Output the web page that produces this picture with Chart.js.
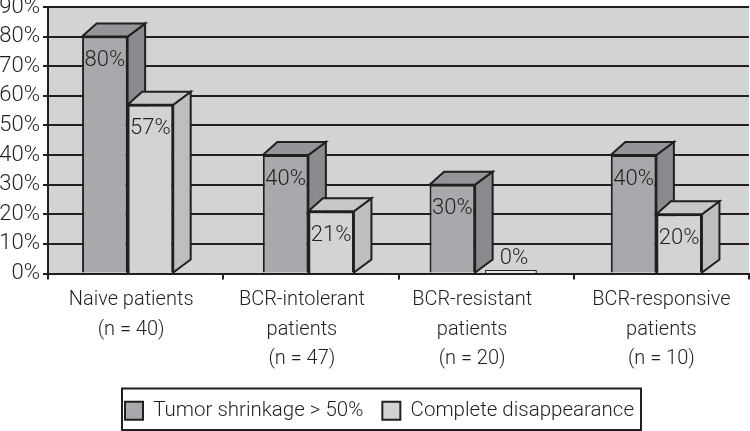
<!DOCTYPE html>
<html>
<head>
<meta charset="utf-8">
<script src="https://cdn.jsdelivr.net/npm/chart.js@4"></script>
<style>
  html, body { margin: 0; padding: 0; background: #fff; overflow: hidden; }
  #wrap { width: 750px; height: 431px; }
</style>
</head>
<body>
<div id="wrap"><canvas id="chart"></canvas></div>
<script>
const categories = [
  ['Naive patients', '(n = 40)'],
  ['BCR-intolerant', 'patients', '(n = 47)'],
  ['BCR-resistant', 'patients', '(n = 20)'],
  ['BCR-responsive', 'patients', '(n = 10)']
];
const shrinkage = [80, 40, 30, 40];
const disappearance = [57, 21, 0, 20];
const seriesNames = ['Tumor shrinkage > 50%', 'Complete disappearance'];
const yTicks = [0, 10, 20, 30, 40, 50, 60, 70, 80, 90];

const ink = '#231f20';
const textInk = '#231f20';
const fontName = 'Roboto, "Liberation Sans", Arial, sans-serif';

// front, side and top colour of each series
const faces = [
  { front: '#a7a9ac', side: '#898b8e', top: '#939598' },
  { front: '#d1d3d4', side: '#bcbec0', top: '#c6c8ca' }
];

// the original groups and labels are not centred on their ticks (px)
const groupShift = [-8, -2.5, -11, -5];
const labelShift = [-4.5, -9, -14, 0];
const depthLeft = 14.5;
const depthRight = 17.5;
const depthY = 13;

const threeD = {
  id: 'threeD',
  afterLayout(chart) {
    // legend sits a little right of centre
    chart.legend.left += 5;
    chart.legend.right += 5;
  },
  afterDatasetsUpdate(chart) {
    chart.data.datasets.forEach((ds, d) => {
      chart.getDatasetMeta(d).data.forEach((bar, i) => {
        bar.x += groupShift[i];
      });
    });
    // the empty bar sits apart from its neighbour
    let zero = chart.getDatasetMeta(1).data[2];
    zero.x += 13;
    zero.width += 5;
  },
  // side and top faces go under the library's own front faces
  beforeDatasetsDraw(chart) {
    const ctx = chart.ctx;
    ctx.save();
    ctx.lineWidth = 2;
    ctx.strokeStyle = ink;
    ctx.lineJoin = 'miter';
    chart.data.datasets.forEach((ds, d) => {
      chart.getDatasetMeta(d).data.forEach((bar, i) => {
        if (ds.data[i] === 0) return;
        let l = bar.x - bar.width / 2, r = bar.x + bar.width / 2;
        let t = bar.y, b = bar.base;
        ctx.fillStyle = faces[d].side;
        ctx.beginPath();
        ctx.moveTo(r, t);
        ctx.lineTo(r + depthRight, t - depthY);
        ctx.lineTo(r + depthRight, b - depthY);
        ctx.lineTo(r, b);
        ctx.closePath();
        ctx.fill();
        ctx.stroke();
        ctx.fillStyle = faces[d].top;
        ctx.beginPath();
        ctx.moveTo(l, t);
        ctx.lineTo(l + depthLeft, t - depthY);
        ctx.lineTo(r + depthRight, t - depthY);
        ctx.lineTo(r, t);
        ctx.closePath();
        ctx.fill();
        ctx.stroke();
      });
    });
    ctx.restore();
  },
  afterDatasetsDraw(chart) {
    const ctx = chart.ctx;
    ctx.save();
    ctx.font = '300 22px ' + fontName;
    ctx.textAlign = 'center';
    ctx.textBaseline = 'middle';
    chart.data.datasets.forEach((ds, d) => {
      chart.getDatasetMeta(d).data.forEach((bar, i) => {
        let v = ds.data[i];
        if (v === 0) {
          // flat slab for the empty bar, label above it
          ctx.fillStyle = '#e6e7e8';
          ctx.strokeStyle = ink;
          ctx.lineWidth = 1;
          ctx.fillRect(bar.x - bar.width / 2, bar.base - 3, bar.width, 3);
          ctx.strokeRect(bar.x - bar.width / 2, bar.base - 3, bar.width, 3);
          ctx.fillStyle = textInk;
          ctx.fillText(v + '%', bar.x + 3, bar.base - 15);
        } else {
          ctx.fillStyle = textInk;
          ctx.fillText(v + '%', bar.x, bar.y + 24);
        }
      });
    });
    ctx.restore();
  },
  afterDraw(chart) {
    // frame round the legend
    const ctx = chart.ctx;
    ctx.save();
    ctx.lineWidth = 2;
    ctx.strokeStyle = ink;
    ctx.strokeRect(122, 388.5, 519, 41.5);
    ctx.restore();
  }
};

const plotBg = {
  id: 'plotBg',
  beforeDraw(chart) {
    const a = chart.chartArea;
    chart.ctx.fillStyle = '#d1d3d4';
    chart.ctx.fillRect(a.left, a.top, a.right - a.left, a.bottom - a.top);
    // slide the category labels off their ticks
    chart.scales.x.getLabelItems().forEach((item, i) => {
      if (!item.shifted) {
        item.options.translation[0] += labelShift[i];
        item.shifted = true;
      }
    });
  }
};

new Chart(document.getElementById('chart'), {
  type: 'bar',
  data: {
    labels: categories,
    datasets: [
      { label: seriesNames[0], data: shrinkage, backgroundColor: faces[0].front, borderColor: ink, borderWidth: 2 },
      { label: seriesNames[1], data: disappearance, backgroundColor: faces[1].front, borderColor: ink, borderWidth: 2 }
    ]
  },
  options: {
    responsive: true,
    maintainAspectRatio: false,
    animation: false,
    layout: { autoPadding: false, padding: { top: 7, right: 1, bottom: 0, left: 0 } },
    datasets: { bar: { categoryPercentage: 0.52, barPercentage: 1 } },
    scales: {
      x: {
        border: { color: ink, width: 2 },
        grid: { drawOnChartArea: false, color: ink, lineWidth: 2, tickLength: 6, offset: true },
        ticks: {
          color: textInk,
          maxRotation: 0,
          autoSkip: false,
          padding: 6,
          font: { family: fontName, size: 20, weight: '300', lineHeight: 1.47 }
        },
        afterFit(scale) { scale.height = 108; }
      },
      y: {
        min: 0,
        max: 90,
        afterBuildTicks(scale) { scale.ticks = yTicks.map(v => ({ value: v })); },
        afterFit(scale) {
          scale.width = 48;
          // the top label is cut by the canvas edge in the original
          scale.paddingTop = 0;
          scale.paddingBottom = 0;
          scale._margins.top = 0;
          scale._margins.bottom = 0;
        },
        border: { color: ink, width: 2 },
        grid: { color: ink, lineWidth: 2, tickLength: 5 },
        ticks: {
          color: textInk,
          padding: 3,
          autoSkip: false,
          callback: v => v + '%',
          font: { family: fontName, size: 22, weight: '300' }
        }
      }
    },
    plugins: {
      tooltip: { enabled: false },
      legend: {
        position: 'bottom',
        labels: {
          color: textInk,
          boxWidth: 18,
          boxHeight: 18,
          padding: 19,
          font: { family: fontName, size: 20.5, weight: '300' },
          generateLabels(chart) {
            return chart.data.datasets.map((ds, i) => ({
              text: ds.label,
              fillStyle: faces[i].front,
              strokeStyle: ink,
              lineWidth: 2,
              datasetIndex: i,
              fontColor: textInk
            }));
          }
        }
      }
    }
  },
  plugins: [plotBg, threeD]
});
</script>
</body>
</html>
